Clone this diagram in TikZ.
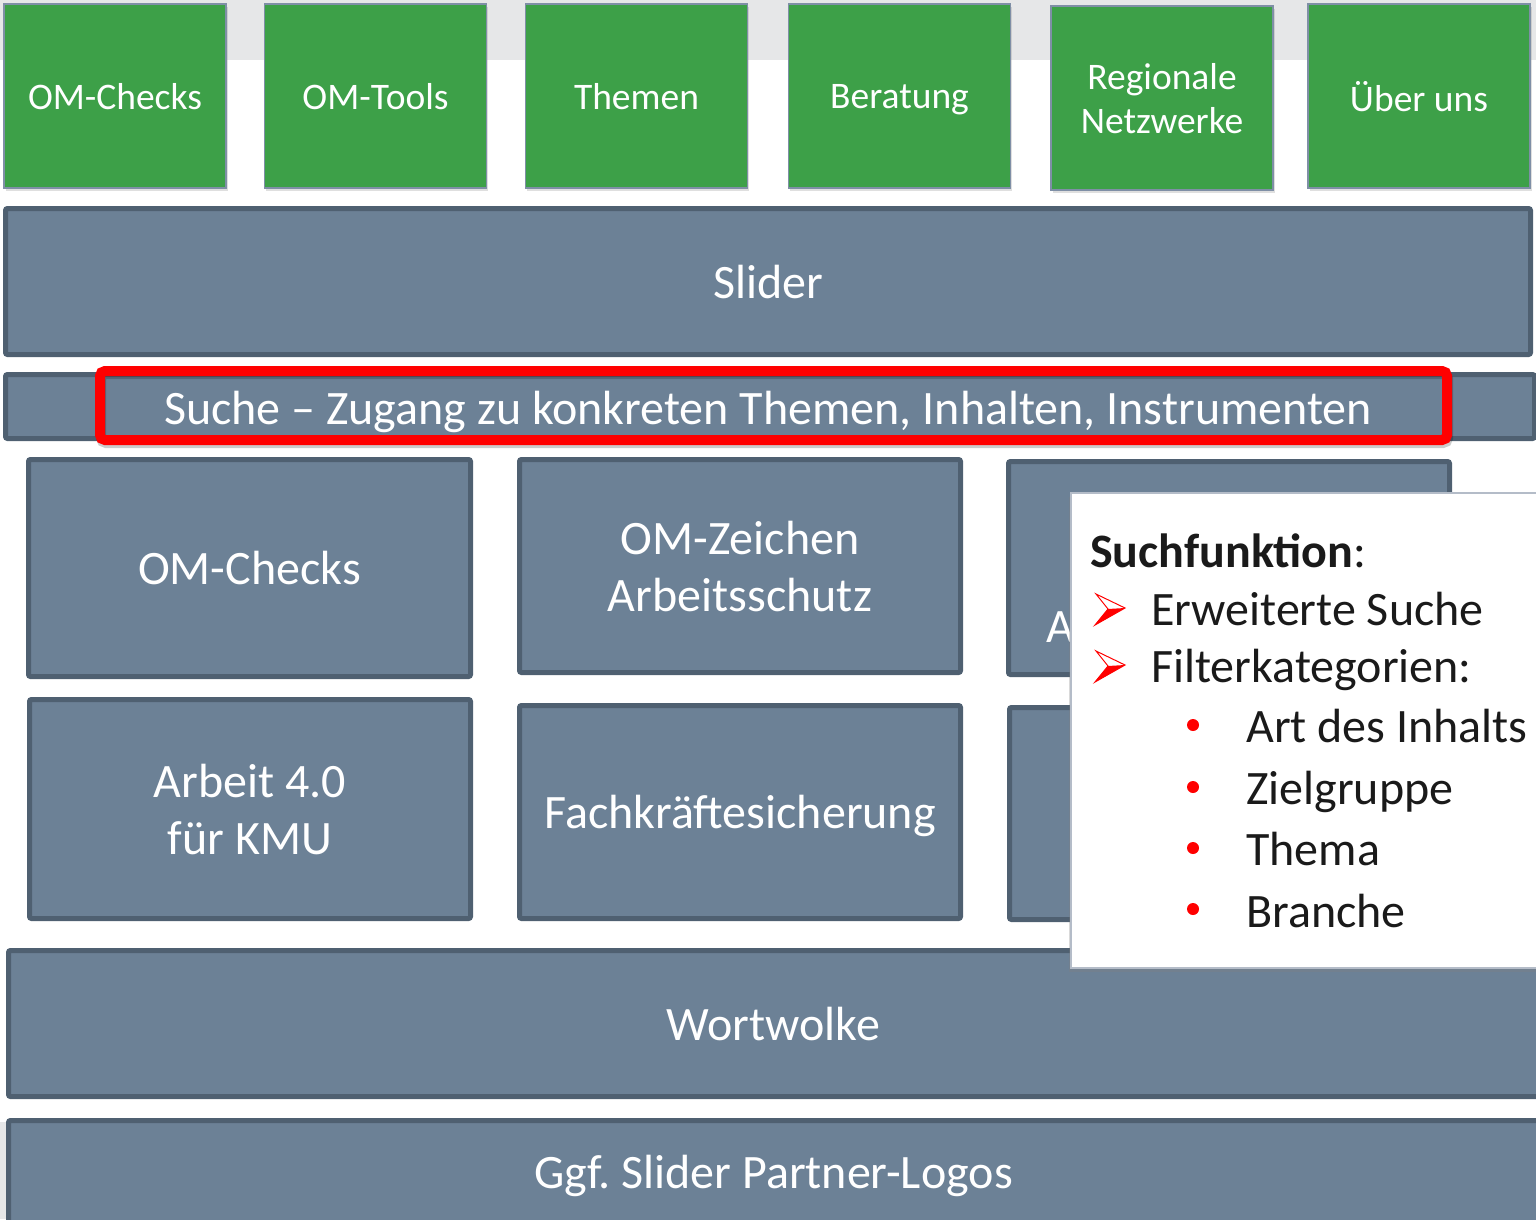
\documentclass[tikz,border=0pt]{standalone}
\usepackage{fontspec}
\setmainfont{Carlito}
\frenchspacing
\usetikzlibrary{shadows}
\definecolor{bandgray}{HTML}{E6E7E8}
\definecolor{omgreen}{HTML}{3DA048}
\definecolor{greenedge}{HTML}{7F8FA6}
\definecolor{slate}{HTML}{6C8196}
\definecolor{slateedge}{HTML}{4F6071}
\definecolor{popedge}{HTML}{B4BCC8}
\definecolor{txtdark}{HTML}{1A1A1A}
\tikzset{
  greenbox/.style={draw=greenedge, line width=1.5pt, fill=omgreen, text=white,
    minimum width=222pt, minimum height=184pt, align=center, inner sep=0pt,
    text depth=0pt, font=\fontsize{37.5}{44}\selectfont,
    drop shadow={shadow xshift=1.5pt, shadow yshift=-3pt, opacity=0.25}},
  slatebox/.style={draw=slateedge, line width=5pt, fill=slate, text=white,
    rounded corners=2pt, align=center, inner sep=0pt, text depth=0pt,
    font=\fontsize{48}{57}\selectfont,
    drop shadow={shadow xshift=1pt, shadow yshift=-2pt, opacity=0.15}},
  popbox/.style={draw=popedge, line width=1.5pt, fill=white, inner sep=0pt,
    drop shadow={shadow xshift=-2pt, shadow yshift=-4pt, opacity=0.3}},
  poptext/.style={anchor=base west, inner sep=0pt, text=txtdark,
    font=\fontsize{48}{57}\selectfont},
  redframe/.style={draw=red, line width=10pt, rounded corners=5pt, inner sep=0pt,
    drop shadow={shadow xshift=1pt, shadow yshift=-3pt, opacity=0.2, fill=none, draw=black, line width=10pt}},
  reddot/.style={circle, fill=red, inner sep=0pt, minimum size=12pt},
  redarrow/.pic={
    \fill[red] (13,0) -- (30,-1) -- (0,16) -- cycle;
    \draw[red, line width=1pt, line join=miter] (1,-15) -- (30,-1) -- (0,16) -- (13,0) -- cycle;
  }
}
\begin{document}
\begin{tikzpicture}[x=1pt, y=-1pt]
\useasboundingbox (0,0) rectangle (1536,1219);
\clip (0,0) rectangle (1536,1219);
% background bands
\fill[bandgray] (0,0) rectangle (1536,60);
\fill[bandgray] (0,1122) rectangle (1536,1219);
% top navigation
\node[greenbox] (n1) at (115,96) {OM-Checks};
\node[greenbox] (n2) at (375.5,96) {OM-Tools};
\node[greenbox] (n3) at (636.5,96) {Themen};
\node[greenbox] (n4) at (899.5,96) {Beratung};
\node[greenbox] (n5) at (1162,98) {Regionale\\Netzwerke};
\node[greenbox] (n6) at (1419,96) {Über uns};
% slider and search
\node[slatebox, minimum width=1525pt, minimum height=146pt] (slider) at (768,281.5) {Slider};
\node[slatebox, minimum width=1529pt, minimum height=64pt] (search) at (770,406.5) {};
\node[redframe, minimum width=1347pt, minimum height=69pt] (frame) at (773.5,405.5) {};
\node[text=white, inner sep=0pt, text depth=0pt, font=\fontsize{48}{57}\selectfont] (searchtxt) at (768,408) {Suche – Zugang zu konkreten Themen, Inhalten, Instrumenten};
% grid
\node[slatebox, minimum width=442pt, minimum height=217pt] (g1) at (249.5,568) {OM-Checks};
\node[slatebox, minimum width=441pt, minimum height=213pt] (g2) at (740,566) {OM-Zeichen\\Arbeitsschutz};
\node[slatebox, minimum width=441pt, minimum height=213pt] (g3) at (1229,568) {};
\node[text=white, anchor=west, inner sep=0pt, font=\fontsize{48}{57}\selectfont] (g3txt) at (1046,627) {A};
\node[slatebox, minimum width=441pt, minimum height=219pt] (g4) at (250,809) {Arbeit 4.0\\für KMU};
\node[slatebox, minimum width=441pt, minimum height=213pt] (g5) at (740,812) {Fachkräftesicherung};
\node[slatebox, minimum width=440pt, minimum height=212pt] (g6) at (1229.5,813.5) {};
% bottom bars
\node[slatebox, minimum width=1530pt, minimum height=146pt] (wort) at (773.5,1023.5) {Wortwolke};
\node[slatebox, minimum width=1530pt, minimum height=103pt] (logos) at (773.5,1172) {Ggf. Slider Partner-Logos};
% popup
\node[popbox, minimum width=470pt, minimum height=475pt] (pop) at (1306,730.5) {};
\node[poptext] (ph) at (1090,567) {\textbf{Suchfunktion}:};
\pic at (1095,609) {redarrow};
\node[poptext] (p1) at (1151,625) {Erweiterte Suche};
\pic at (1095,666) {redarrow};
\node[poptext] (p2) at (1151,682) {Filterkategorien:};
\node[reddot] (b1) at (1193,725) {};
\node[poptext] (i1) at (1246,742) {Art des Inhalts};
\node[reddot] (b2) at (1193,787) {};
\node[poptext] (i2) at (1246,804) {Zielgruppe};
\node[reddot] (b3) at (1193,848) {};
\node[poptext] (i3) at (1246,865) {Thema};
\node[reddot] (b4) at (1193,909) {};
\node[poptext] (i4) at (1246,927) {Branche};
\end{tikzpicture}
\end{document}
